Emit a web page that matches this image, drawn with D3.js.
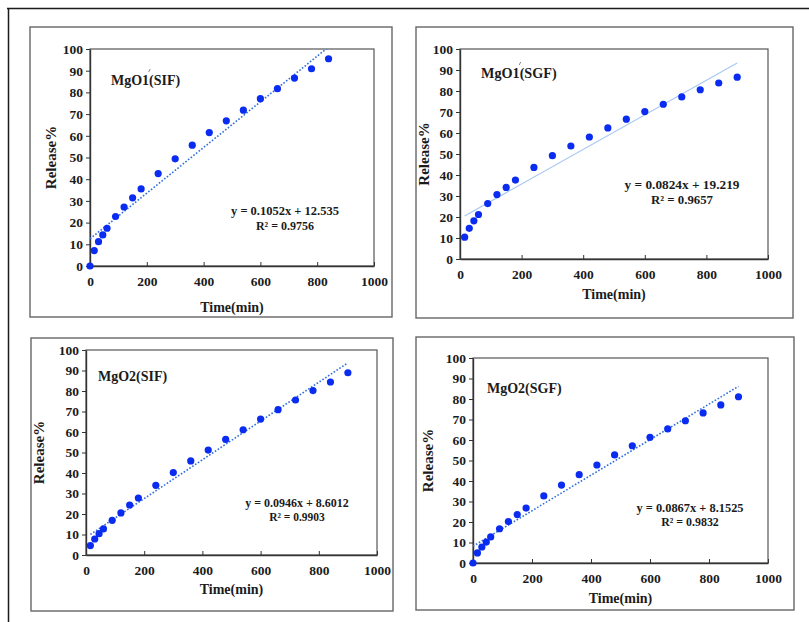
<!DOCTYPE html>
<meta charset="utf-8">
<style>
 body { margin: 0; background: #fff; }
 svg { display: block; }
 .frame { fill: none; stroke: #1b1b1b; stroke-width: 1.5; }
 .box { fill: #fff; stroke: #666; stroke-width: 1.4; }
 .plotbox { fill: none; stroke: #555; stroke-width: 1.2; }
</style>
<body>
<svg width="809" height="622"></svg>
<script src="https://d3js.org/d3.v7.min.js"></script>
<script>

var serif = "'Liberation Serif', 'Times New Roman', serif";

// sampling times (min)
var timeMgO1SIF = [0, 15, 30, 45, 60, 90, 120, 150, 180, 240, 300, 360, 420, 480, 540, 600, 660, 720, 780, 840];
var timeMgO1SGF = [15, 30, 45, 60, 90, 120, 150, 180, 240, 300, 360, 420, 480, 540, 600, 660, 720, 780, 840, 900];
var timeMgO2SIF = [15, 30, 45, 60, 90, 120, 150, 180, 240, 300, 360, 420, 480, 540, 600, 660, 720, 780, 840, 900];
var timeMgO2SGF = [0, 15, 30, 45, 60, 90, 120, 150, 180, 240, 300, 360, 420, 480, 540, 600, 660, 720, 780, 840, 900];

// release %
var releaseMgO1SIF = [0, 7.1, 11.2, 14.3, 17.4, 22.8, 27.2, 31.4, 35.5, 42.6, 49.4, 55.7, 61.5, 66.9, 71.8, 77.1, 81.7, 86.6, 90.9, 95.5];
var releaseMgO1SGF = [10.4, 14.6, 18.2, 21.2, 26.4, 30.7, 34.1, 37.6, 43.6, 49.2, 53.8, 58.1, 62.4, 66.6, 70.2, 73.7, 77.2, 80.6, 83.8, 86.6];
var releaseMgO2SIF = [4.6, 7.8, 10.4, 12.7, 16.9, 20.5, 24.4, 27.8, 34.0, 40.2, 45.9, 51.2, 56.4, 61.1, 66.3, 70.9, 75.6, 80.2, 84.4, 88.9];
var releaseMgO2SGF = [0, 4.9, 7.8, 10.2, 12.7, 16.7, 20.2, 23.6, 26.8, 32.7, 38.0, 43.1, 47.8, 52.7, 57.2, 61.3, 65.4, 69.4, 73.2, 77.1, 81.1];

// sample names
var sampleBase = ["MgO1", "MgO1", "MgO2", "MgO2"];
var samplePrime = [true, true, false, false];
var sampleMedium = ["(SIF)", "(SGF)", "(SIF)", "(SGF)"];

// linear fits
var slopes = [0.1052, 0.0824, 0.0946, 0.0867];
var intercepts = ["12.535", "19.219", "8.6012", "8.1525"];
var rSquared = ["0.9756", "0.9657", "0.9903", "0.9832"];

var xTicks = [0, 200, 400, 600, 800, 1000];
var yTicks = [0, 10, 20, 30, 40, 50, 60, 70, 80, 90, 100];

var times = [timeMgO1SIF, timeMgO1SGF, timeMgO2SIF, timeMgO2SGF];
var releases = [releaseMgO1SIF, releaseMgO1SGF, releaseMgO2SIF, releaseMgO2SGF];

// panel placement
var layout = [
  {box: [30, 27, 392, 317], plot: [90, 49, 374, 266], title: [111, 85, 14], eq: [285, 215, 12.5], xlab: 312, ylabX: 56, dotted: true},
  {box: [416, 27, 793, 318], plot: [460, 49, 768, 259], title: [481, 78, 14.2], eq: [682, 189, 13.3], xlab: 299, ylabX: 429, dotted: false},
  {box: [31, 338, 393, 611], plot: [86, 350, 377, 555], title: [98, 381, 14], eq: [297, 507, 12], xlab: 594, ylabX: 44, dotted: true},
  {box: [416, 337, 794, 610], plot: [473, 358, 768, 563], title: [487, 393, 14], eq: [690, 512, 12.4], xlab: 603, ylabX: 433, dotted: true}
];

var svg = d3.select("svg");

// outer frame (top + left only visible)
svg.append("path").attr("class", "frame").attr("d", "M7,8.5H809M8.5,8V622");

function styleAxis(a) {
  a.attr("font-family", serif).attr("font-weight", "bold").attr("font-size", 13.5);
  a.select(".domain").attr("stroke", "#333").attr("stroke-width", 1.4);
  a.selectAll("line").attr("stroke", "#333");
  a.selectAll("text").attr("fill", "#1b1b1b");
}

layout.forEach(function(L, k) {
  var g = svg.append("g");
  g.append("rect").attr("class", "box")
    .attr("x", L.box[0]).attr("y", L.box[1])
    .attr("width", L.box[2] - L.box[0]).attr("height", L.box[3] - L.box[1]);

  var x = d3.scaleLinear().domain([0, 1000]).range([L.plot[0], L.plot[2]]);
  var y = d3.scaleLinear().domain([0, 100]).range([L.plot[3], L.plot[1]]);

  g.append("rect").attr("class", "plotbox")
    .attr("x", L.plot[0]).attr("y", L.plot[1])
    .attr("width", L.plot[2] - L.plot[0]).attr("height", L.plot[3] - L.plot[1]);

  var xa = g.append("g").attr("transform", "translate(0," + L.plot[3] + ")")
    .call(d3.axisBottom(x).tickValues(xTicks).tickFormat(d3.format("d"))
      .tickSizeInner(-4).tickSizeOuter(0).tickPadding(10));
  styleAxis(xa);

  var ya = g.append("g").attr("transform", "translate(" + L.plot[0] + ",0)")
    .call(d3.axisLeft(y).tickValues(yTicks).tickFormat(d3.format("d"))
      .tickSizeInner(4).tickSizeOuter(0).tickPadding(3));
  styleAxis(ya);

  // trend line, clipped to the plot area
  var clipId = "clip" + k;
  g.append("clipPath").attr("id", clipId).append("rect")
    .attr("x", L.plot[0]).attr("y", L.plot[1])
    .attr("width", L.plot[2] - L.plot[0]).attr("height", L.plot[3] - L.plot[1]);
  var t = times[k];
  var ext = d3.extent(t);
  var fit = function(v) { return slopes[k] * v + (+intercepts[k]); };
  g.append("line").attr("clip-path", "url(#" + clipId + ")")
    .attr("x1", x(ext[0])).attr("y1", y(fit(ext[0])))
    .attr("x2", x(ext[1])).attr("y2", y(fit(ext[1])))
    .attr("stroke", L.dotted ? "#2f6fdc" : "#a9c8f2")
    .attr("stroke-width", L.dotted ? 1.6 : 1.2)
    .attr("stroke-dasharray", L.dotted ? "1.6,1.8" : null);

  g.selectAll("circle").data(t).enter().append("circle")
    .attr("cx", function(d) { return x(d); })
    .attr("cy", function(d, i) { return y(releases[k][i]); })
    .attr("r", 3.6)
    .attr("fill", "#0a2cf0");

  var title = g.append("text")
    .attr("x", L.title[0]).attr("y", L.title[1])
    .attr("font-family", serif).attr("font-weight", "bold").attr("fill", "#1b1b1b")
    .attr("font-size", L.title[2]);
  var base = title.append("tspan").text(sampleBase[k]);
  title.append("tspan").text(sampleMedium[k]);
  if (samplePrime[k]) {
    // little prime mark over the "1"
    var px = L.title[0] + base.node().getComputedTextLength();
    g.append("path")
      .attr("d", "M" + (px - 0.5) + "," + (L.title[1] - 13) + "l1.6,-3")
      .attr("stroke", "#777").attr("stroke-width", 0.9).attr("fill", "none");
  }

  g.append("text")
    .attr("x", L.eq[0]).attr("y", L.eq[1]).attr("text-anchor", "middle")
    .attr("font-family", serif).attr("font-weight", "bold").attr("fill", "#1b1b1b")
    .attr("font-size", L.eq[2])
    .text("y = " + slopes[k] + "x + " + intercepts[k]);
  g.append("text")
    .attr("x", L.eq[0]).attr("y", L.eq[1] + L.eq[2] + 2).attr("text-anchor", "middle")
    .attr("font-family", serif).attr("font-weight", "bold").attr("fill", "#1b1b1b")
    .attr("font-size", L.eq[2] - 0.5)
    .text("R\u00b2 = " + rSquared[k]);

  g.append("text")
    .attr("x", (L.plot[0] + L.plot[2]) / 2).attr("y", L.xlab)
    .attr("text-anchor", "middle")
    .attr("font-family", serif).attr("font-weight", "bold").attr("fill", "#1b1b1b")
    .attr("font-size", 14)
    .text("Time(min)");

  g.append("text")
    .attr("transform", "translate(" + L.ylabX + "," + (L.plot[1] + L.plot[3]) / 2 + ") rotate(-90)")
    .attr("text-anchor", "middle")
    .attr("font-family", serif).attr("font-weight", "bold").attr("fill", "#1b1b1b")
    .attr("font-size", 15)
    .text("Release%");
});

</script>
</body>
